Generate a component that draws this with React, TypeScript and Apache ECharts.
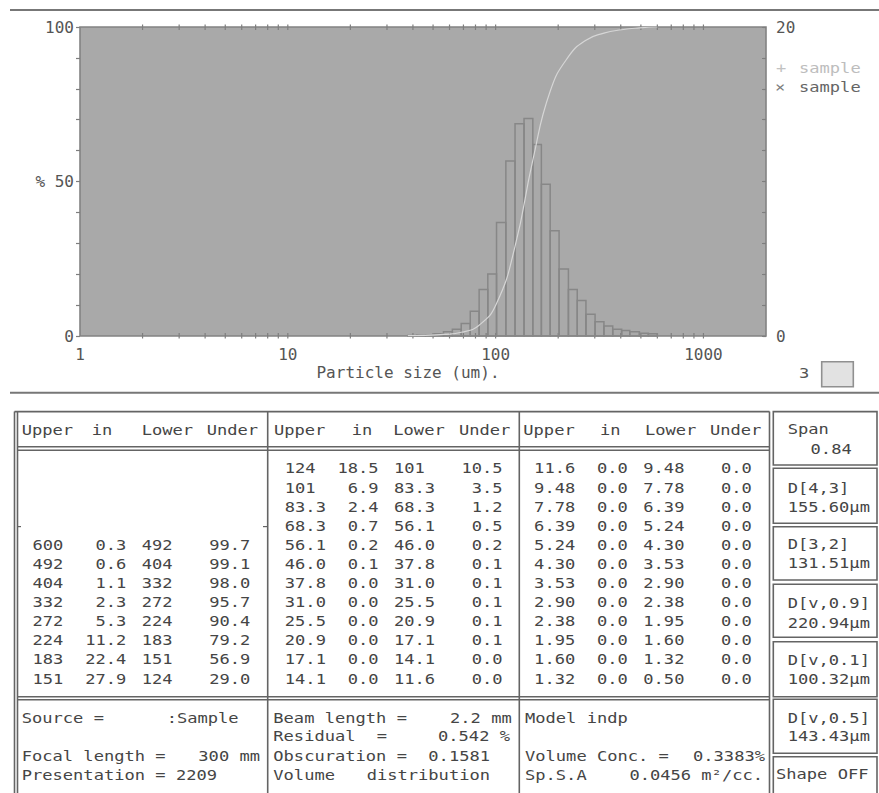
import React, { useEffect, useRef } from "react";
import * as echarts from "echarts";

// ---------- data ----------
const xTickValues = [2, 3, 4, 5, 6, 7, 8, 9, 10, 20, 30, 40, 50, 60, 70, 80, 90, 100, 200, 300, 400, 500, 600, 700, 800, 900, 1000];
const xLabelValues = [1, 10, 100, 1000];

const binEdges = [37.8, 41.7, 46.0, 50.8, 56.1, 61.9, 68.3, 75.5, 83.3, 91.7, 101, 112, 124, 137, 151, 166, 183, 202, 224, 247, 272, 301, 332, 366, 404, 442, 492, 543, 600];
const binPercent = [0.03, 0.05, 0.06, 0.15, 0.27, 0.44, 0.81, 1.61, 3.01, 4.01, 7.34, 11.33, 13.73, 14.08, 12.39, 9.82, 6.82, 4.33, 3.01, 2.3, 1.41, 0.92, 0.64, 0.44, 0.36, 0.27, 0.17, 0.15];

const cumSize = [37.8, 46.0, 56.1, 68.3, 83.3, 101, 124, 151, 183, 224, 272, 332, 404, 492, 600];
const cumUnder = [0.1, 0.2, 0.5, 1.2, 3.5, 10.5, 29.0, 56.9, 79.2, 90.4, 95.7, 98.0, 99.1, 99.7, 100];

const tableUpper = ["600", "492", "404", "332", "272", "224", "183", "151", "124", "101", "83.3", "68.3", "56.1", "46.0", "37.8", "31.0", "25.5", "20.9", "17.1", "14.1", "11.6", "9.48", "7.78", "6.39", "5.24", "4.30", "3.53", "2.90", "2.38", "1.95", "1.60", "1.32"];
const tableIn = ["0.3", "0.6", "1.1", "2.3", "5.3", "11.2", "22.4", "27.9", "18.5", "6.9", "2.4", "0.7", "0.2", "0.1", "0.0", "0.0", "0.0", "0.0", "0.0", "0.0", "0.0", "0.0", "0.0", "0.0", "0.0", "0.0", "0.0", "0.0", "0.0", "0.0", "0.0", "0.0"];
const tableLower = ["492", "404", "332", "272", "224", "183", "151", "124", "101", "83.3", "68.3", "56.1", "46.0", "37.8", "31.0", "25.5", "20.9", "17.1", "14.1", "11.6", "9.48", "7.78", "6.39", "5.24", "4.30", "3.53", "2.90", "2.38", "1.95", "1.60", "1.32", "0.50"];
const tableUnder = ["99.7", "99.1", "98.0", "95.7", "90.4", "79.2", "56.9", "29.0", "10.5", "3.5", "1.2", "0.5", "0.2", "0.1", "0.1", "0.1", "0.1", "0.1", "0.0", "0.0", "0.0", "0.0", "0.0", "0.0", "0.0", "0.0", "0.0", "0.0", "0.0", "0.0", "0.0", "0.0"];

const statLabels = ["Span", "D[4,3]", "D[3,2]", "D[v,0.9]", "D[v,0.1]", "D[v,0.5]"];
const statValues = ["0.84", "155.60µm", "131.51µm", "220.94µm", "100.32µm", "143.43µm"];

// ---------- styles ----------
const FONT_FAMILY = '"DejaVu Sans Mono", monospace';
const SX = 1.22;
const TXT = "#454545";
const LINE = "#646464";
const AXIS = "#7e7e7e";

function txt(x: number, y: number, text: string, align: string = "left", fill: string = TXT) {
  return {
    type: "text",
    x,
    y,
    scaleX: SX,
    silent: true,
    style: {
      text,
      fill,
      font: `14px ${FONT_FAMILY}`,
      textAlign: align,
      textVerticalAlign: "middle",
    },
  };
}

function ln(x1: number, y1: number, x2: number, y2: number, w: number = 1.6, c: string = LINE) {
  return { type: "line", silent: true, shape: { x1, y1, x2, y2 }, style: { stroke: c, lineWidth: w } };
}

function box(x: number, y: number, w: number, h: number, fill: string = "rgba(0,0,0,0)", stroke: string = LINE) {
  return { type: "rect", silent: true, shape: { x, y, width: w, height: h }, style: { fill, stroke, lineWidth: 1.6 } };
}

function buildGraphics() {
  const g: any[] = [];
  // frame lines
  g.push(ln(10, 10, 879, 10, 2, "#777"));
  g.push(ln(10, 392.7, 879, 392.7, 2, "#777"));

  // table frame
  const top = 411.6;
  g.push(ln(14.5, top, 14.5, 793));
  g.push(ln(17.5, top, 17.5, 793));
  g.push(ln(14.5, top, 769.5, top));
  g.push(ln(17.5, 446.7, 769.5, 446.7));
  g.push(ln(17.5, 450.2, 769.5, 450.2));
  g.push(ln(267.7, top, 267.7, 793));
  g.push(ln(519.3, top, 519.3, 793));
  g.push(ln(769.5, top, 769.5, 793));
  g.push(ln(17.5, 696.8, 769.5, 696.8));
  g.push(ln(17.5, 699.8, 769.5, 699.8));
  g.push(ln(17.5, 526.6, 21, 526.6, 1.2));
  g.push(ln(263, 526.6, 267.7, 526.6, 1.2));

  // right panel boxes
  const boxes = [
    [411.6, 465],
    [468.3, 523.3],
    [526.7, 580],
    [584.3, 637.3],
    [641.7, 696.7],
    [699.3, 753.3],
    [756.7, 800],
  ];
  boxes.forEach(([a, b]) => g.push(box(773.3, a, 103.7, b - a)));

  // headers
  const headerY = 430.7;
  const headerX = [
    [21.7, 91.7, 141.7, 206.7],
    [274, 351.7, 393.3, 459],
    [523.3, 600, 645, 710],
  ];
  const headerWords = ["Upper", "in", "Lower", "Under"];
  headerX.forEach((xs) => xs.forEach((x, i) => g.push(txt(x, headerY, headerWords[i]))));

  // table rows
  const rowY0 = 469;
  const rowH = 19.1;
  const bases = [21.7, 274, 523.3];
  for (let k = 0; k < tableUpper.length; k++) {
    let col: number;
    let row: number;
    if (k < 8) {
      col = 0;
      row = k + 4;
    } else if (k < 20) {
      col = 1;
      row = k - 8;
    } else {
      col = 2;
      row = k - 20;
    }
    const b = bases[col];
    const y = rowY0 + row * rowH;
    g.push(txt(b + 10.8, y, tableUpper[k]));
    g.push(txt(b + 104.6, y, tableIn[k], "right"));
    g.push(txt(b + 120, y, tableLower[k]));
    g.push(txt(b + 228.6, y, tableUnder[k], "right"));
  }

  // stats panel
  const statY = [430, 488.3, 545, 603.3, 661, 718.3];
  const valY = [450, 507.3, 564, 623.3, 680, 736.7];
  statLabels.forEach((s, i) => {
    g.push(txt(787.7, statY[i], s));
    if (i === 0) g.push(txt(851.7, valY[i], statValues[i], "right"));
    else g.push(txt(787.7, valY[i], statValues[i]));
  });
  g.push(txt(776, 775, "Shape OFF"));

  // bottom info
  g.push(txt(21.7, 718.3, "Source ="));
  g.push(txt(166.7, 718.3, ":Sample"));
  g.push(txt(21.7, 756.7, "Focal length ="));
  g.push(txt(260, 756.7, "300 mm", "right"));
  g.push(txt(21.7, 775.7, "Presentation = 2209"));

  g.push(txt(273.3, 718.3, "Beam length ="));
  g.push(txt(511.7, 718.3, "2.2 mm", "right"));
  g.push(txt(273.3, 737, "Residual"));
  g.push(txt(376.7, 737, "="));
  g.push(txt(510, 737, "0.542 %", "right"));
  g.push(txt(273.3, 756.7, "Obscuration ="));
  g.push(txt(490, 756.7, "0.1581", "right"));
  g.push(txt(273.3, 775.7, "Volume"));
  g.push(txt(490, 775.7, "distribution", "right"));

  g.push(txt(525, 718.3, "Model indp"));
  g.push(txt(525, 756.7, "Volume Conc. ="));
  g.push(txt(765, 756.7, "0.3383%", "right"));
  g.push(txt(525, 775.7, "Sp.S.A"));
  g.push(txt(763, 775.7, "0.0456 m²/cc.", "right"));

  // legend
  g.push(txt(776, 68.3, "+", "left", "#c2c2c2"));
  g.push(txt(799, 68.3, "sample", "left", "#bdbdbd"));
  g.push(txt(775, 87.3, "×", "left", "#7a7a7a"));
  g.push(txt(799, 87.3, "sample", "left", "#656565"));

  // "3" indicator
  g.push(txt(799, 374, "3", "left", "#555"));
  g.push(box(821.7, 361.7, 31.6, 25, "#e2e2e2", "#909090"));
  return g;
}

export default function App() {
  const ref = useRef<HTMLDivElement>(null);
  useEffect(() => {
    if (!ref.current) return;
    const chart = echarts.init(ref.current, undefined, { renderer: "svg" });
    const labelStyle = { fontFamily: FONT_FAMILY, fontSize: 16, color: "#555555" };
    chart.setOption({
      animation: false,
      backgroundColor: "#ffffff",
      textStyle: { fontFamily: FONT_FAMILY },
      grid: {
        left: 80,
        right: 113,
        top: 27,
        bottom: 457,
        show: true,
        backgroundColor: "#a9a9a9",
        borderColor: "#838383",
        borderWidth: 1.6,
        containLabel: false,
        outerBoundsMode: "none",
      },
      xAxis: {
        type: "log",
        logBase: 10,
        min: 1,
        max: 2000,
        axisLine: { show: false },
        axisTick: { show: false },
        splitLine: { show: false },
        axisLabel: {
          ...labelStyle,
          margin: 10,
          showMaxLabel: false,
          formatter: (v: number) => {
            const r = Math.round(v);
            return xLabelValues.indexOf(r) >= 0 ? String(r) : "";
          },
        },
        name: "Particle size (um).",
        nameLocation: "middle",
        nameGap: 28,
        nameTextStyle: { ...labelStyle, padding: [0, 30, 0, 0] },
      },
      yAxis: [
        {
          type: "value",
          min: 0,
          max: 100,
          interval: 50,
          position: "left",
          axisLine: { show: false },
          axisTick: { show: true, length: 4, lineStyle: { color: AXIS, width: 1.2 } },
          minorTick: { show: true, splitNumber: 5, length: 4, lineStyle: { color: AXIS, width: 1.2 } },
          splitLine: { show: false },
          minorSplitLine: { show: false },
          axisLabel: {
            ...labelStyle,
            margin: 6,
            formatter: (v: number) => (v === 50 ? "% 50" : String(v)),
          },
        },
        {
          type: "value",
          min: 0,
          max: 20,
          interval: 10,
          position: "right",
          axisLine: { show: false },
          axisTick: { show: true, inside: true, length: 4, lineStyle: { color: AXIS, width: 1.2 } },
          minorTick: { show: true, splitNumber: 5, length: 4, lineStyle: { color: AXIS, width: 1.2 } },
          splitLine: { show: false },
          minorSplitLine: { show: false },
          axisLabel: {
            ...labelStyle,
            margin: 10,
            formatter: (v: number) => (v === 10 ? "" : String(v)),
          },
        },
      ],
      series: [
        {
          type: "custom",
          name: "xticks",
          silent: true,
          xAxisIndex: 0,
          yAxisIndex: 0,
          data: xTickValues.map((v) => [v, 0]),
          encode: { x: 0, y: 1 },
          renderItem: (_p: any, api: any) => {
            const v = api.value(0);
            const b = api.coord([v, 0]);
            const t = api.coord([v, 100]);
            const st = { stroke: AXIS, lineWidth: 1.2 };
            return {
              type: "group",
              children: [
                { type: "line", shape: { x1: b[0], y1: b[1] - 3, x2: b[0], y2: b[1] + 2.5 }, style: st },
                { type: "line", shape: { x1: t[0], y1: t[1] - 2.5, x2: t[0], y2: t[1] + 3 }, style: st },
              ],
            };
          },
        },
        {
          type: "custom",
          name: "× sample",
          silent: true,
          xAxisIndex: 0,
          yAxisIndex: 1,
          data: binPercent.map((p, i) => [binEdges[i], binEdges[i + 1], p]),
          encode: { x: [0, 1], y: 2 },
          renderItem: (_p: any, api: any) => {
            const a = api.coord([api.value(0), api.value(2)]);
            const b = api.coord([api.value(1), 0]);
            return {
              type: "rect",
              shape: { x: a[0], y: a[1], width: b[0] - a[0], height: b[1] - a[1] },
              style: { fill: "rgba(0,0,0,0)", stroke: "#878787", lineWidth: 1.5 },
            };
          },
        },
        {
          type: "line",
          name: "+ sample",
          silent: true,
          xAxisIndex: 0,
          yAxisIndex: 0,
          data: cumSize.map((s, i) => [s, cumUnder[i]]),
          showSymbol: false,
          smooth: 0.5,
          lineStyle: { color: "#d6d6d6", width: 1.2 },
        },
      ],
      graphic: buildGraphics(),
    });
    return () => chart.dispose();
  }, []);
  return <div ref={ref} style={{ position: "absolute", left: 0, top: 0, width: 879, height: 793 }} />;
}
